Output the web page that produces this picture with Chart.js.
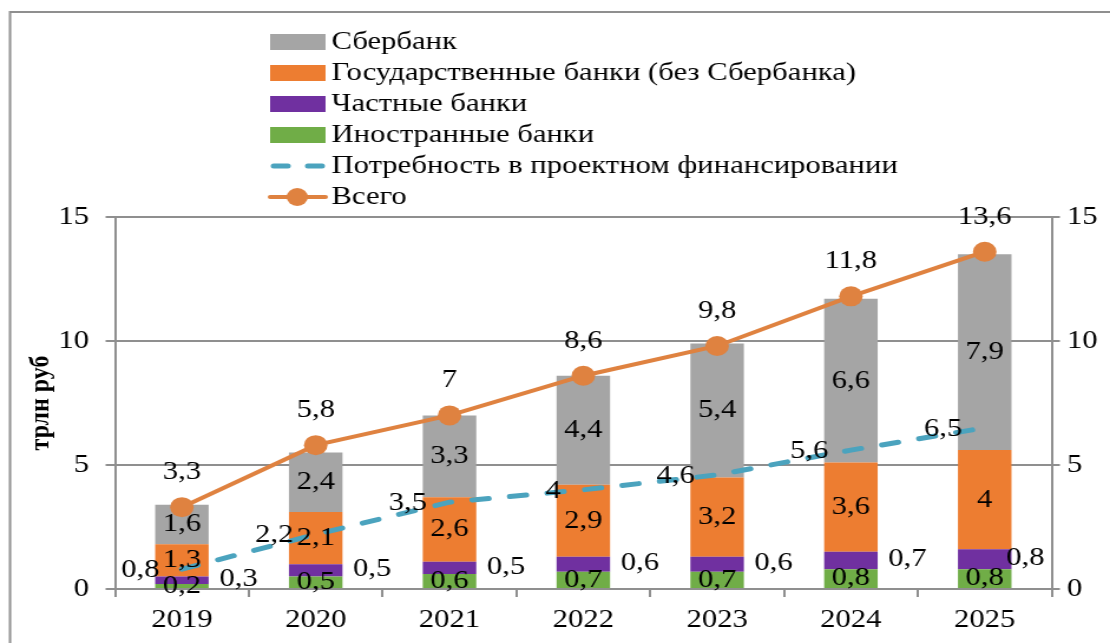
<html>
<head>
  <meta charset="utf-8">
  <script src="https://cdn.jsdelivr.net/npm/chart.js"></script>
  <style>
    body { margin: 0; background: #fff; overflow: hidden; }
    /* the original picture is stretched sideways, so draw narrow and widen it */
    .wrap { width: 941px; height: 643px; transform: scaleX(1.1796); transform-origin: 0 0; }
  </style>
</head>
<body>
  <div class="wrap">
    <canvas id="bankChart" width="941" height="643"></canvas>
  </div>
  <script>
    const years = ['2019', '2020', '2021', '2022', '2023', '2024', '2025'];
    const sber = [1.6, 2.4, 3.3, 4.4, 5.4, 6.6, 7.9];
    const stateBanks = [1.3, 2.1, 2.6, 2.9, 3.2, 3.6, 4];
    const privateBanks = [0.3, 0.5, 0.5, 0.6, 0.6, 0.7, 0.8];
    const foreignBanks = [0.2, 0.5, 0.6, 0.7, 0.7, 0.8, 0.8];
    const need = [0.8, 2.2, 3.5, 4, 4.6, 5.6, 6.5];
    const total = [3.3, 5.8, 7, 8.6, 9.8, 11.8, 13.6];
    const yTicks = [0, 5, 10, 15];

    const FONT = 'Liberation Serif';
    const gridGray = '#8f8f8f';
    const fmt = v => String(v).replace('.', ',');

    // labels for every point, placed roughly like the excel original
    const labelPlugin = {
      id: 'valueLabels',
      afterDatasetsDraw(chart) {
        const ctx = chart.ctx;
        ctx.save();
        ctx.font = '26px "' + FONT + '"';
        ctx.fillStyle = '#000';
        ctx.textBaseline = 'middle';
        chart.data.datasets.forEach((ds, i) => {
          const meta = chart.getDatasetMeta(i);
          meta.data.forEach((el, j) => {
            const txt = fmt(ds.data[j]);
            const pos = ds.labelPos;
            if (pos === 'center') {
              ctx.textAlign = 'center';
              ctx.fillText(txt, el.x, (el.y + el.base) / 2);
            } else if (pos === 'right') {
              ctx.textAlign = 'left';
              let x = el.x + el.width / 2 + 9;
              const w = ctx.measureText(txt).width;
              if (x + w > chart.chartArea.right - 6) x = chart.chartArea.right - 6 - w;
              ctx.fillText(txt, x, (el.y + el.base) / 2 - 1);
            } else if (pos === 'left') {
              ctx.textAlign = 'right';
              ctx.fillText(txt, el.x - 19, el.y + 1);
            } else if (pos === 'above') {
              ctx.textAlign = 'center';
              ctx.fillText(txt, el.x, el.y - 35);
            }
          });
        });
        ctx.restore();
      }
    };

    // one-column legend + outer frame
    const legendPlugin = {
      id: 'columnLegend',
      afterDraw(chart) {
        const ctx = chart.ctx;
        const items = [
          { text: 'Сбербанк', type: 'box', color: '#A5A5A5' },
          { text: 'Государственные банки (без Сбербанка)', type: 'box', color: '#ED7D31' },
          { text: 'Частные банки', type: 'box', color: '#7030A0' },
          { text: 'Иностранные банки', type: 'box', color: '#70AD47' },
          { text: 'Потребность в проектном финансировании', type: 'dash', color: '#4BA3BE' },
          { text: 'Всего', type: 'marker', color: '#DF8240' }
        ];
        const rows = [42, 73, 104, 135, 166, 197];
        ctx.save();
        ctx.font = '26px "' + FONT + '"';
        ctx.textBaseline = 'middle';
        ctx.textAlign = 'left';
        items.forEach((it, k) => {
          const y = rows[k];
          if (it.type === 'box') {
            ctx.fillStyle = it.color;
            ctx.fillRect(229, y - 8, 47, 16);
          } else if (it.type === 'dash') {
            ctx.strokeStyle = it.color;
            ctx.lineWidth = 5;
            ctx.lineCap = 'round';
            ctx.beginPath();
            ctx.moveTo(232, y); ctx.lineTo(244, y);
            ctx.moveTo(261, y); ctx.lineTo(273, y);
            ctx.stroke();
          } else {
            ctx.strokeStyle = it.color;
            ctx.lineWidth = 4;
            ctx.beginPath();
            ctx.moveTo(229, y); ctx.lineTo(276, y);
            ctx.stroke();
            ctx.fillStyle = it.color;
            ctx.beginPath();
            ctx.arc(252, y, 9, 0, Math.PI * 2);
            ctx.fill();
          }
          ctx.fillStyle = '#000';
          ctx.fillText(it.text, 281, y);
        });
        ctx.strokeStyle = gridGray;
        ctx.lineWidth = 2;
        ctx.strokeRect(8.5, 12, 2000, 2000);
        ctx.restore();
      }
    };

    new Chart(document.getElementById('bankChart'), {
      type: 'bar',
      data: {
        labels: years,
        datasets: [
          {
            type: 'line', label: 'Всего', data: total, order: 1, labelPos: 'above',
            borderColor: '#DF8240', backgroundColor: '#DF8240', borderWidth: 4,
            pointRadius: 10, pointBorderWidth: 0, pointBackgroundColor: '#DF8240', yAxisID: 'y2'
          },
          {
            type: 'line', label: 'Потребность в проектном финансировании', data: need, order: 2, labelPos: 'left',
            borderColor: '#4BA3BE', borderWidth: 5, borderDash: [14, 18], borderCapStyle: 'round',
            pointRadius: 0, yAxisID: 'y2'
          },
          { label: 'Иностранные банки', data: foreignBanks, backgroundColor: '#70AD47', order: 3, labelPos: 'center' },
          { label: 'Частные банки', data: privateBanks, backgroundColor: '#7030A0', order: 3, labelPos: 'right' },
          { label: 'Государственные банки (без Сбербанка)', data: stateBanks, backgroundColor: '#ED7D31', order: 3, labelPos: 'center' },
          { label: 'Сбербанк', data: sber, backgroundColor: '#A5A5A5', order: 3, labelPos: 'center' }
        ]
      },
      options: {
        responsive: false,
        animation: false,
        barPercentage: 0.4,
        categoryPercentage: 1,
        layout: { padding: { top: 217, left: 0, right: 0, bottom: 0 } },
        plugins: {
          legend: { display: false },
          tooltip: { enabled: false }
        },
        scales: {
          x: {
            stacked: true,
            offset: true,
            grid: { offset: true, drawOnChartArea: false, drawTicks: true, tickLength: 8, color: gridGray, lineWidth: 2 },
            border: { color: gridGray, width: 2 },
            ticks: { color: '#000', font: { family: FONT, size: 26 }, padding: 8 },
            afterFit: s => { s.height = 54; }
          },
          y: {
            stacked: true,
            position: 'left',
            min: 0, max: 15,
            afterBuildTicks: s => { s.ticks = yTicks.map(v => ({ value: v })); },
            grid: { color: gridGray, lineWidth: 2, tickLength: 8 },
            border: { color: gridGray, width: 2 },
            ticks: { color: '#000', font: { family: FONT, size: 26 }, padding: 14 },
            title: {
              display: true, text: 'трлн руб', color: '#000',
              font: { family: FONT, size: 24, weight: 'bold' },
              padding: { top: 20, bottom: 0 }
            },
            afterFit: s => { s.width = 97.5; }
          },
          y2: {
            position: 'right',
            min: 0, max: 15,
            afterBuildTicks: s => { s.ticks = yTicks.map(v => ({ value: v })); },
            grid: { drawOnChartArea: false, drawTicks: true, tickLength: 7, color: gridGray, lineWidth: 2 },
            border: { color: gridGray, width: 2 },
            ticks: { color: '#000', font: { family: FONT, size: 26 }, padding: 6 },
            afterFit: s => { s.width = 49.5; }
          }
        }
      },
      plugins: [labelPlugin, legendPlugin]
    });
  </script>
</body>
</html>
